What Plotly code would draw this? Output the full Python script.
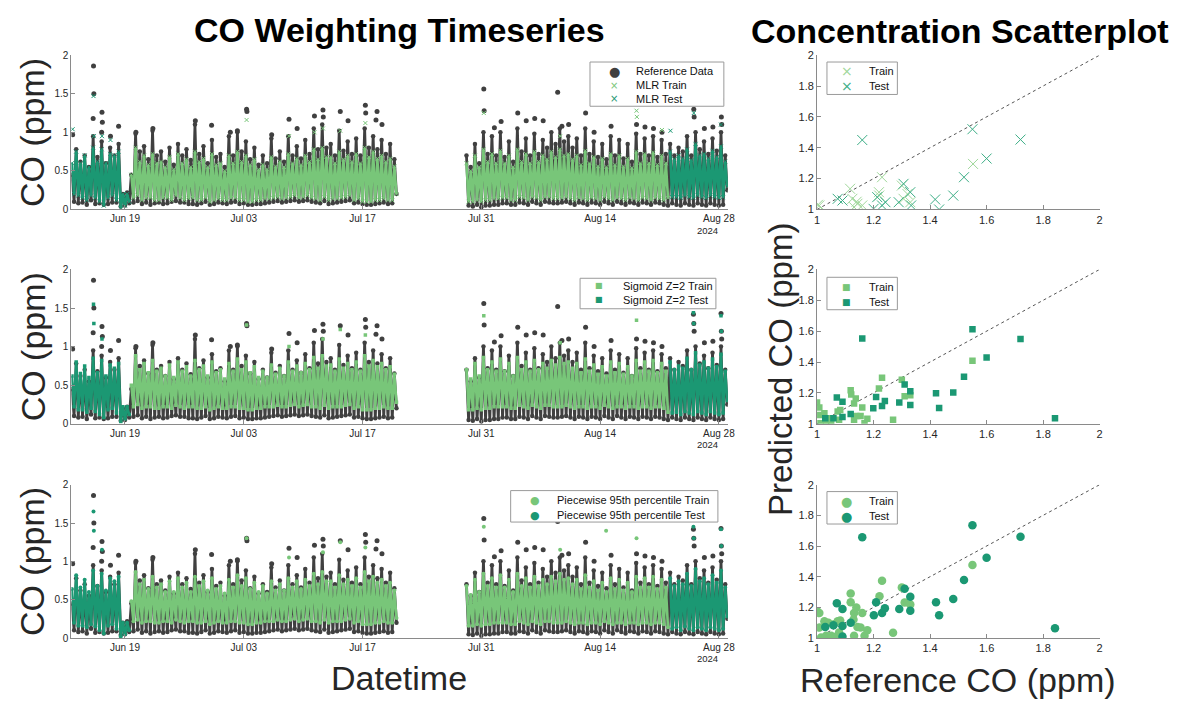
import pandas as pd
import plotly.graph_objects as go

# ---------------- data ----------------
SEG1_START, SEG1_END = '2024-06-12 18:00', '2024-07-21 00:00'
SEG2_START, SEG2_END = '2024-07-29 06:00', '2024-08-29 00:00'
TEST1_END = pd.Timestamp('2024-06-19 12:00')
TEST2_START = pd.Timestamp('2024-08-22 06:00')

# reference CO, 6-hourly (00,06,12,18 h)
ref_seg1 = [0.45,
 0.10,0.78,0.08,0.62, 0.09,0.70,0.06,0.55, 0.12,0.95,0.07,0.68, 0.08,0.88,0.06,0.60,
 0.07,0.80,0.09,0.70, 0.09,0.85,0.04,0.20, 0.05,0.22,0.08,0.45, 0.09,0.98,0.11,0.75,
 0.07,0.82,0.09,0.65, 0.06,1.02,0.08,0.70, 0.09,0.75,0.07,0.62, 0.08,0.80,0.10,0.58,
 0.11,0.85,0.09,0.70, 0.09,0.78,0.07,0.64, 0.07,1.10,0.06,0.72, 0.08,0.82,0.10,0.60,
 0.06,0.90,0.07,0.68, 0.09,0.72,0.08,0.55, 0.07,0.95,0.09,0.70, 0.10,1.00,0.07,0.75,
 0.08,0.88,0.06,0.65, 0.06,0.80,0.07,0.58, 0.07,0.70,0.08,0.60, 0.09,0.92,0.10,0.66,
 0.11,0.75,0.09,0.62, 0.10,0.95,0.11,0.70, 0.12,0.82,0.10,0.66, 0.11,0.90,0.12,0.72,
 0.10,1.05,0.09,0.78, 0.08,1.10,0.11,0.80, 0.07,0.85,0.08,0.70, 0.09,1.02,0.10,0.76,
 0.11,0.88,0.12,0.72, 0.08,0.92,0.09,0.70, 0.07,1.05,0.06,0.80, 0.06,0.95,0.07,0.78,
 0.08,0.90,0.09,0.72, 0.07,0.85,0.08,0.65,
 0.20]
ref_seg2 = [0.70,0.05,0.55,
 0.04,0.85,0.06,0.60, 0.03,1.00,0.05,0.72, 0.05,0.95,0.06,0.70, 0.06,1.00,0.08,0.68,
 0.08,0.88,0.06,0.62, 0.06,1.05,0.09,0.75, 0.08,0.92,0.06,0.70, 0.10,0.98,0.08,0.72,
 0.06,0.90,0.10,0.80, 0.09,1.00,0.08,0.85, 0.08,1.05,0.09,0.88, 0.10,0.95,0.08,0.80,
 0.06,0.92,0.09,0.70, 0.08,1.05,0.06,0.72, 0.09,0.88,0.08,0.68, 0.06,0.85,0.10,0.65,
 0.08,0.95,0.06,0.70, 0.10,0.90,0.08,0.66, 0.06,0.85,0.09,0.62, 0.08,0.98,0.06,0.72,
 0.09,0.92,0.08,0.70, 0.06,0.95,0.09,0.68, 0.08,0.90,0.06,0.72, 0.05,0.85,0.08,0.70,
 0.06,0.80,0.05,0.75, 0.08,0.95,0.06,0.70, 0.05,1.00,0.08,0.78, 0.06,0.88,0.05,0.72,
 0.08,0.92,0.06,0.76, 0.05,1.00,0.06,0.70,
 0.25]
ref_peak_times = ['2024-06-12 20:00','2024-06-15 06:00','2024-06-15 07:00','2024-06-15 08:00',
 '2024-06-16 06:00','2024-06-16 07:00','2024-06-16 08:00','2024-06-17 07:00','2024-06-18 06:00',
 '2024-06-20 07:00','2024-06-22 07:00','2024-06-27 07:00','2024-06-29 05:00','2024-07-01 10:00',
 '2024-07-02 06:00','2024-07-03 08:00','2024-07-03 09:00','2024-07-06 07:00','2024-07-08 08:00',
 '2024-07-09 07:00','2024-07-11 08:00','2024-07-12 08:00','2024-07-12 09:00','2024-07-14 09:00',
 '2024-07-15 07:00','2024-07-17 08:00','2024-07-17 09:00','2024-07-18 14:00','2024-07-18 17:00',
 '2024-07-19 07:00','2024-07-31 07:00','2024-07-31 08:00','2024-08-01 13:00','2024-08-02 08:00',
 '2024-08-04 07:00','2024-08-05 07:00','2024-08-06 07:00','2024-08-07 07:00','2024-08-09 00:00',
 '2024-08-09 12:00','2024-08-10 07:00','2024-08-12 07:00','2024-08-13 07:00','2024-08-15 07:00',
 '2024-08-18 07:00','2024-08-19 07:00','2024-08-20 07:00','2024-08-21 07:00','2024-08-25 00:00',
 '2024-08-25 01:00','2024-08-25 02:00','2024-08-26 07:00','2024-08-27 07:00','2024-08-28 06:00',
 '2024-08-28 07:00','2024-08-28 08:00']
ref_peak_vals = [0.97,1.18,1.86,1.50,1.00,1.26,1.13,0.95,1.08,1.00,1.05,1.15,1.09,1.00,1.02,1.30,
 1.27,0.97,1.17,1.05,1.21,1.29,1.20,1.27,1.15,1.35,1.25,1.16,1.27,1.10,1.56,1.28,1.06,1.14,1.25,
 1.15,1.18,1.15,1.52,1.08,1.10,1.25,1.00,1.08,1.10,1.07,1.05,1.00,1.42,1.30,1.20,1.05,1.07,1.43,
 1.20,1.10]

# MLR predictions
mlr_seg1 = [0.60,
 0.20,0.75,0.18,0.60, 0.15,0.70,0.12,0.55, 0.18,0.80,0.15,0.62, 0.10,0.78,0.05,0.60,
 0.15,0.72,0.18,0.70, 0.12,0.75,0.02,0.20, 0.05,0.20,0.10,0.45, 0.15,0.80,0.18,0.62,
 0.12,0.70,0.15,0.58, 0.15,0.72,0.12,0.60, 0.12,0.62,0.15,0.55, 0.15,0.68,0.12,0.52,
 0.18,0.72,0.15,0.60, 0.12,0.65,0.14,0.55, 0.15,0.75,0.12,0.62, 0.12,0.66,0.15,0.55,
 0.10,0.72,0.12,0.58, 0.14,0.60,0.12,0.50, 0.12,0.70,0.15,0.60, 0.15,0.75,0.12,0.62,
 0.12,0.70,0.10,0.58, 0.10,0.65,0.12,0.52, 0.12,0.58,0.14,0.52, 0.14,0.68,0.15,0.56,
 0.16,0.62,0.14,0.55, 0.15,0.72,0.16,0.60, 0.18,0.66,0.15,0.58, 0.16,0.70,0.18,0.62,
 0.15,0.78,0.14,0.65, 0.12,0.80,0.16,0.68, 0.12,0.68,0.14,0.60, 0.14,0.75,0.15,0.65,
 0.16,0.70,0.18,0.62, 0.12,0.72,0.14,0.60, 0.10,0.80,0.10,0.68, 0.10,0.75,0.12,0.66,
 0.12,0.70,0.14,0.62, 0.12,0.66,0.12,0.56,
 0.20]
mlr_seg2 = [0.60,0.10,0.50,
 0.10,0.70,0.12,0.55, 0.10,0.78,0.12,0.62, 0.12,0.72,0.14,0.60, 0.14,0.76,0.15,0.60,
 0.15,0.70,0.12,0.55, 0.12,0.78,0.16,0.62, 0.15,0.72,0.12,0.60, 0.16,0.75,0.15,0.62,
 0.12,0.70,0.16,0.65, 0.16,0.75,0.14,0.68, 0.14,0.78,0.15,0.70, 0.16,0.72,0.14,0.65,
 0.12,0.70,0.15,0.58, 0.14,0.76,0.12,0.60, 0.15,0.68,0.14,0.56, 0.12,0.66,0.16,0.55,
 0.14,0.72,0.12,0.58, 0.15,0.70,0.14,0.56, 0.12,0.66,0.15,0.54, 0.14,0.75,0.12,0.60,
 0.15,0.72,0.14,0.60, 0.12,0.74,0.15,0.58, 0.14,0.70,0.12,0.60, 0.15,0.75,0.16,0.65,
 0.16,0.70,0.15,0.66, 0.18,0.78,0.16,0.64, 0.15,0.85,0.18,0.70, 0.16,0.72,0.15,0.66,
 0.18,0.76,0.16,0.68, 0.15,0.82,0.16,0.62,
 0.30]
mlr_peak_times = ['2024-06-12 20:00','2024-06-15 07:00','2024-06-15 08:00','2024-06-16 07:00',
 '2024-06-17 07:00','2024-07-03 08:00','2024-07-08 08:00','2024-07-11 08:00','2024-07-12 08:00',
 '2024-07-14 09:00','2024-07-17 08:00','2024-07-31 07:00','2024-08-09 07:00','2024-08-18 07:00',
 '2024-08-18 08:00','2024-08-21 07:00','2024-08-22 07:00','2024-08-25 00:00','2024-08-25 01:00',
 '2024-08-28 06:00']
mlr_peak_vals = [1.04,1.47,0.95,0.95,0.90,1.16,0.95,1.00,1.05,1.02,1.12,1.25,0.95,1.28,1.20,1.03,
 1.02,1.38,1.25,1.10]

# Sigmoid Z=2 predictions
sig_seg1 = [0.62,
 0.22,0.80,0.18,0.65, 0.18,0.75,0.15,0.60, 0.20,0.85,0.16,0.66, 0.12,0.82,0.08,0.62,
 0.18,0.76,0.20,0.72, 0.14,0.78,0.03,0.22, 0.06,0.22,0.12,0.50, 0.22,0.88,0.25,0.70,
 0.20,0.78,0.22,0.66, 0.22,0.82,0.20,0.68, 0.20,0.72,0.22,0.62, 0.22,0.76,0.20,0.60,
 0.24,0.80,0.22,0.68, 0.20,0.74,0.22,0.62, 0.22,0.82,0.20,0.70, 0.20,0.75,0.22,0.62,
 0.18,0.80,0.20,0.66, 0.22,0.70,0.20,0.58, 0.20,0.78,0.22,0.68, 0.22,0.84,0.20,0.70,
 0.20,0.80,0.18,0.66, 0.18,0.74,0.20,0.60, 0.20,0.68,0.22,0.60, 0.22,0.76,0.22,0.64,
 0.24,0.72,0.22,0.62, 0.22,0.80,0.24,0.68, 0.25,0.75,0.22,0.66, 0.24,0.78,0.25,0.70,
 0.22,0.86,0.22,0.72, 0.20,0.88,0.24,0.75, 0.20,0.76,0.22,0.68, 0.22,0.84,0.22,0.72,
 0.24,0.78,0.25,0.70, 0.20,0.80,0.22,0.68, 0.18,0.88,0.18,0.75, 0.18,0.82,0.20,0.74,
 0.20,0.78,0.22,0.70, 0.20,0.74,0.20,0.64,
 0.28]
sig_seg2 = [0.70,0.18,0.58,
 0.18,0.78,0.20,0.62, 0.18,0.86,0.20,0.70, 0.20,0.80,0.22,0.68, 0.22,0.84,0.22,0.68,
 0.22,0.78,0.20,0.62, 0.20,0.86,0.24,0.70, 0.22,0.80,0.20,0.68, 0.24,0.82,0.22,0.70,
 0.20,0.78,0.24,0.72, 0.24,0.82,0.22,0.76, 0.22,0.86,0.22,0.78, 0.24,0.80,0.22,0.72,
 0.20,0.78,0.22,0.66, 0.22,0.84,0.20,0.68, 0.22,0.76,0.22,0.64, 0.20,0.74,0.24,0.62,
 0.22,0.80,0.20,0.66, 0.22,0.78,0.22,0.64, 0.20,0.74,0.22,0.62, 0.22,0.82,0.20,0.68,
 0.22,0.80,0.22,0.68, 0.20,0.82,0.22,0.66, 0.22,0.78,0.20,0.68, 0.15,0.80,0.14,0.70,
 0.15,0.75,0.12,0.72, 0.16,0.85,0.14,0.70, 0.12,0.92,0.16,0.76, 0.14,0.80,0.12,0.72,
 0.16,0.84,0.14,0.74, 0.12,0.90,0.14,0.68,
 0.30]
sig_peak_times = ['2024-06-15 07:00','2024-06-15 08:00','2024-06-16 07:00','2024-07-03 08:00',
 '2024-07-08 08:00','2024-07-12 08:00','2024-07-14 09:00','2024-07-17 08:00','2024-07-31 07:00',
 '2024-08-09 07:00','2024-08-18 07:00','2024-08-25 00:00','2024-08-25 01:00','2024-08-28 06:00',
 '2024-08-28 07:00']
sig_peak_vals = [1.55,1.30,1.10,1.28,1.00,1.10,1.22,1.15,1.40,1.05,1.34,1.44,1.30,1.40,1.20]

# Piecewise 95th percentile predictions
pw_seg1 = [0.64,
 0.20,0.82,0.16,0.66, 0.16,0.76,0.14,0.60, 0.18,0.88,0.15,0.68, 0.10,0.84,0.06,0.62,
 0.16,0.78,0.18,0.74, 0.12,0.80,0.02,0.20, 0.05,0.20,0.10,0.48, 0.22,0.86,0.24,0.70,
 0.20,0.76,0.22,0.64, 0.22,0.80,0.20,0.66, 0.20,0.70,0.22,0.60, 0.22,0.74,0.20,0.60,
 0.24,0.78,0.22,0.66, 0.20,0.72,0.22,0.60, 0.22,0.80,0.20,0.68, 0.20,0.74,0.22,0.62,
 0.18,0.78,0.20,0.64, 0.22,0.68,0.20,0.58, 0.20,0.76,0.22,0.66, 0.22,0.82,0.20,0.68,
 0.20,0.78,0.18,0.64, 0.18,0.72,0.20,0.60, 0.20,0.68,0.22,0.58, 0.22,0.74,0.22,0.62,
 0.24,0.70,0.22,0.62, 0.22,0.78,0.24,0.66, 0.25,0.74,0.22,0.64, 0.24,0.76,0.25,0.68,
 0.22,0.84,0.22,0.70, 0.20,0.86,0.24,0.74, 0.20,0.74,0.22,0.66, 0.22,0.82,0.22,0.70,
 0.24,0.76,0.25,0.68, 0.20,0.78,0.22,0.66, 0.18,0.86,0.18,0.74, 0.18,0.80,0.20,0.72,
 0.20,0.76,0.22,0.68, 0.20,0.72,0.20,0.62,
 0.26]
pw_seg2 = [0.68,0.16,0.56,
 0.16,0.76,0.18,0.60, 0.16,0.84,0.18,0.68, 0.18,0.78,0.20,0.66, 0.20,0.82,0.20,0.66,
 0.20,0.76,0.18,0.60, 0.18,0.84,0.22,0.68, 0.20,0.78,0.18,0.66, 0.22,0.80,0.20,0.68,
 0.18,0.76,0.22,0.70, 0.22,0.80,0.20,0.74, 0.20,0.84,0.20,0.76, 0.22,0.78,0.20,0.70,
 0.18,0.76,0.20,0.64, 0.20,0.82,0.18,0.66, 0.20,0.74,0.20,0.62, 0.18,0.72,0.22,0.60,
 0.20,0.78,0.18,0.64, 0.20,0.76,0.20,0.62, 0.18,0.72,0.20,0.60, 0.20,0.80,0.18,0.66,
 0.20,0.78,0.20,0.66, 0.18,0.80,0.20,0.64, 0.20,0.76,0.18,0.66, 0.14,0.78,0.12,0.68,
 0.14,0.74,0.10,0.70, 0.15,0.84,0.12,0.68, 0.10,0.90,0.14,0.74, 0.12,0.78,0.10,0.70,
 0.14,0.82,0.12,0.72, 0.10,0.88,0.12,0.66,
 0.28]
pw_peak_times = ['2024-06-15 07:00','2024-06-15 08:00','2024-06-16 07:00','2024-07-03 08:00',
 '2024-07-08 08:00','2024-07-12 08:00','2024-07-14 09:00','2024-07-17 08:00','2024-07-31 07:00',
 '2024-08-09 07:00','2024-08-14 17:00','2024-08-18 07:00','2024-08-25 00:00','2024-08-25 01:00',
 '2024-08-28 06:00','2024-08-28 07:00']
pw_peak_vals = [1.65,1.40,1.15,1.30,1.05,1.12,1.25,1.18,1.45,1.15,1.40,1.30,1.45,1.30,1.42,1.20]

# scatter (reference vs predicted CO)
mlr_train_x = [1.008,1.003,1.117,1.125,1.143,1.160,1.131,1.230,1.219,1.300,1.306,1.330,1.552,1.140,1.220,1.320]
mlr_train_y = [1.026,1.030,1.134,1.069,1.037,1.026,1.015,1.209,1.112,1.155,1.069,1.047,1.295,1.050,1.090,1.100]
mlr_test_x = [1.073,1.090,1.160,1.200,1.213,1.230,1.242,1.289,1.306,1.330,1.333,1.418,1.432,1.482,1.520,1.550,1.600,1.720]
mlr_test_y = [1.069,1.058,1.450,1.004,1.080,1.026,1.047,1.047,1.166,1.112,1.026,1.065,1.000,1.090,1.209,1.520,1.330,1.453]

sig_train_x = [1.000,1.008,1.008,1.012,1.026,1.032,1.050,1.050,1.073,1.078,1.082,1.119,1.121,1.131,1.137,1.131,1.139,1.154,1.160,1.168,1.178,1.219,1.230,1.269,1.300,1.310,1.330,1.550]
sig_train_y = [1.138,1.106,1.057,1.004,1.068,1.004,1.036,1.000,1.079,1.026,1.089,1.217,1.190,1.132,1.164,1.026,1.051,1.051,1.106,1.004,1.032,1.228,1.298,1.026,1.285,1.179,1.185,1.408]
sig_test_x = [1.029,1.058,1.070,1.090,1.090,1.119,1.160,1.199,1.209,1.230,1.240,1.291,1.310,1.330,1.330,1.421,1.432,1.482,1.520,1.550,1.600,1.720,1.842]
sig_test_y = [1.036,1.036,1.170,1.143,1.043,1.064,1.553,1.100,1.174,1.115,1.147,1.138,1.255,1.210,1.121,1.198,1.102,1.202,1.304,1.613,1.430,1.549,1.036]

pw_train_x = [1.000,1.008,1.008,1.014,1.032,1.026,1.050,1.067,1.073,1.078,1.082,1.119,1.119,1.129,1.131,1.131,1.139,1.143,1.154,1.160,1.168,1.178,1.221,1.230,1.269,1.300,1.310,1.330,1.550,1.040,1.060]
pw_train_y = [1.174,1.163,1.068,1.004,1.015,1.110,1.015,1.008,1.110,1.036,1.114,1.290,1.233,1.121,1.163,1.015,1.199,1.072,1.068,1.163,1.015,1.051,1.273,1.373,1.034,1.330,1.231,1.218,1.477,1.100,1.090]
pw_test_x = [1.029,1.058,1.070,1.090,1.090,1.090,1.119,1.160,1.201,1.209,1.230,1.240,1.291,1.310,1.330,1.330,1.421,1.432,1.482,1.520,1.550,1.600,1.720,1.842]
pw_test_y = [1.072,1.083,1.227,1.190,1.010,1.078,1.100,1.657,1.148,1.233,1.163,1.195,1.189,1.322,1.269,1.178,1.233,1.148,1.254,1.379,1.735,1.523,1.661,1.064]

date_ticks = ['2024-06-19','2024-07-03','2024-07-17','2024-07-31','2024-08-14','2024-08-28']
date_tick_text = ['Jun 19','Jul 03','Jul 17','Jul 31','Aug 14','Aug 28']
ts_y_ticks = [0, 0.5, 1, 1.5, 2]
ts_y_text = ['0', '0.5', '1', '1.5', '2']
sc_ticks = [1, 1.2, 1.4, 1.6, 1.8, 2]
sc_text = ['1', '1.2', '1.4', '1.6', '1.8', '2']

# ---------------- style ----------------
W, H = 1181, 704
FONT = 'Liberation Sans, Arial, sans-serif'
SYMFONT = 'DejaVu Sans, sans-serif'
REF_C = '#404040'
TRAIN_C = '#78c679'
TEST_C = '#1b9873'
MLR_TRAIN_SC = '#9fd79a'
MLR_TEST_SC = '#3cae86'
AX_C = '#8a8a8a'
TXT_C = '#262626'

t1 = list(pd.date_range(SEG1_START, SEG1_END, freq='6h'))
t2 = list(pd.date_range(SEG2_START, SEG2_END, freq='6h'))
assert len(t1) == len(ref_seg1) == len(mlr_seg1) == len(sig_seg1) == len(pw_seg1)
assert len(t2) == len(ref_seg2) == len(mlr_seg2) == len(sig_seg2) == len(pw_seg2)


def is_test(t):
    return t <= TEST1_END or t >= TEST2_START


def band(v1, v2, part=None):
    xs, ys = [], []
    for t, v in list(zip(t1, v1)) + [(None, None)] + list(zip(t2, v2)):
        if t is None:
            xs.append(None); ys.append(None); continue
        keep = part is None or (is_test(t) == (part == 'test'))
        xs.append(t); ys.append(v if keep else None)
    return xs, ys


def peaks(times, vals, part=None):
    xs, ys = [], []
    for t, v in zip(times, vals):
        tt = pd.Timestamp(t)
        if part is None or is_test(tt) == (part == 'test'):
            xs.append(tt); ys.append(v)
    return xs, ys


def mk(color, size, symbol):
    m = dict(color=color, size=size, symbol=symbol)
    m['line'] = dict(color=color, width=1) if symbol.endswith('-thin') else dict(width=0)
    return m


fig = go.Figure()

rows = [(50, 207), (268, 425), (487, 643)]
ydoms = [[1 - b / H, 1 - t / H] for t, b in rows]
ts_xdom = [69 / W, 731 / W]
sc_xdom = [821 / W, 1106 / W]

models = [
    (mlr_seg1, mlr_seg2, mlr_peak_times, mlr_peak_vals, 'x-thin', 4),
    (sig_seg1, sig_seg2, sig_peak_times, sig_peak_vals, 'square', 3.5),
    (pw_seg1, pw_seg2, pw_peak_times, pw_peak_vals, 'circle', 4),
]
scat = [
    (mlr_train_x, mlr_train_y, mlr_test_x, mlr_test_y, 'x-thin', 10, MLR_TRAIN_SC, MLR_TEST_SC),
    (sig_train_x, sig_train_y, sig_test_x, sig_test_y, 'square', 6.5, TRAIN_C, TEST_C),
    (pw_train_x, pw_train_y, pw_test_x, pw_test_y, 'circle', 8.5, TRAIN_C, TEST_C),
]

for i, (s1, s2, pt, pv, sym, msz) in enumerate(models):
    xa = 'x' if i == 0 else f'x{2 * i + 1}'
    ya = 'y' if i == 0 else f'y{2 * i + 1}'
    bx, by = band(ref_seg1, ref_seg2)
    fig.add_trace(go.Scatter(x=bx, y=by, mode='lines+markers', xaxis=xa, yaxis=ya,
                             line=dict(color=REF_C, width=2.8), marker=dict(color=REF_C, size=4.5),
                             showlegend=False, connectgaps=False, hoverinfo='skip'))
    px_, py_ = peaks(ref_peak_times, ref_peak_vals)
    fig.add_trace(go.Scatter(x=px_, y=py_, mode='markers', xaxis=xa, yaxis=ya,
                             marker=dict(color=REF_C, size=5), showlegend=False, hoverinfo='skip'))
    for part, col in (('train', TRAIN_C), ('test', TEST_C)):
        bx, by = band(s1, s2, part)
        fig.add_trace(go.Scatter(x=bx, y=by, mode='lines+markers', xaxis=xa, yaxis=ya,
                                 line=dict(color=col, width=2.6), marker=mk(col, msz, sym),
                                 showlegend=False, connectgaps=False, hoverinfo='skip'))
        px_, py_ = peaks(pt, pv, part)
        fig.add_trace(go.Scatter(x=px_, y=py_, mode='markers', xaxis=xa, yaxis=ya,
                                 marker=mk(col, msz, sym), showlegend=False, hoverinfo='skip'))

    trx, tr_y, tex, te_y, ssym, ssz, ctr, cte = scat[i]
    sxa, sya = f'x{2 * i + 2}', f'y{2 * i + 2}'
    fig.add_trace(go.Scatter(x=[1, 2], y=[1, 2], mode='lines', xaxis=sxa, yaxis=sya,
                             line=dict(color='#555555', width=1, dash='dot'), showlegend=False,
                             hoverinfo='skip'))
    fig.add_trace(go.Scatter(x=trx, y=tr_y, mode='markers', name='Train', xaxis=sxa, yaxis=sya,
                             showlegend=False, marker=mk(ctr, ssz, ssym), hoverinfo='skip'))
    fig.add_trace(go.Scatter(x=tex, y=te_y, mode='markers', name='Test', xaxis=sxa, yaxis=sya,
                             showlegend=False, marker=mk(cte, ssz, ssym), hoverinfo='skip'))

common = dict(showline=True, linecolor=AX_C, linewidth=1, ticks='inside', ticklen=4,
              tickcolor=AX_C, showgrid=False, zeroline=False, mirror=False,
              tickfont=dict(family=FONT, size=10, color=TXT_C))
for i in range(3):
    xk = 'xaxis' if i == 0 else f'xaxis{2 * i + 1}'
    yk = 'yaxis' if i == 0 else f'yaxis{2 * i + 1}'
    ya = 'y' if i == 0 else f'y{2 * i + 1}'
    xa = 'x' if i == 0 else f'x{2 * i + 1}'
    fig.layout[xk] = dict(common, domain=ts_xdom, anchor=ya, type='date',
                          range=['2024-06-12 16:30', '2024-08-29 01:15'],
                          tickvals=date_ticks, ticktext=date_tick_text)
    fig.layout[yk] = dict(common, domain=ydoms[i], anchor=xa, range=[0, 2],
                          tickvals=ts_y_ticks, ticktext=ts_y_text)
    fig.layout[f'xaxis{2 * i + 2}'] = dict(common, domain=sc_xdom, anchor=f'y{2 * i + 2}', range=[1, 2],
                                            tickvals=sc_ticks, ticktext=sc_text,
                                            tickfont=dict(family=FONT, size=11, color=TXT_C))
    fig.layout[f'yaxis{2 * i + 2}'] = dict(common, domain=ydoms[i], anchor=f'x{2 * i + 2}', range=[1, 2],
                                            tickvals=sc_ticks, ticktext=sc_text,
                                            tickfont=dict(family=FONT, size=11, color=TXT_C))

ann = []
shapes = []


def add_text(text, xpx, ypx, size, angle=0, bold=False, color=TXT_C, xanchor='center', family=FONT):
    ann.append(dict(text=f'<b>{text}</b>' if bold else text, x=xpx / W, y=1 - ypx / H,
                    xref='paper', yref='paper', showarrow=False, textangle=angle,
                    xanchor=xanchor, yanchor='middle',
                    font=dict(family=family, size=size, color=color)))


def add_legend(box, entries, sym_x, text_x):
    x0, y0, x1, y1 = box
    shapes.append(dict(type='rect', xref='paper', yref='paper', x0=x0 / W, x1=x1 / W,
                       y0=1 - y1 / H, y1=1 - y0 / H, line=dict(color='#9a9a9a', width=1),
                       fillcolor='white', layer='above'))
    for glyph, gsize, gcol, label, ypx in entries:
        add_text(glyph, sym_x, ypx, gsize, color=gcol, family=SYMFONT)
        add_text(label, text_x, ypx, 11, color='#111111', xanchor='left')


# legends (manual, drawn as boxes with glyphs and labels)
add_legend((592, 57, 727, 102), [('●', 13, REF_C, 'Reference Data', 66.5),
                                 ('×', 10, TRAIN_C, 'MLR Train', 80.5),
                                 ('×', 10, TEST_C, 'MLR Test', 94.5)], 616.5, 636.5)
add_legend((582, 277, 719, 308), [('■', 8, TRAIN_C, 'Sigmoid Z=2 Train', 284.5),
                                  ('■', 8, TEST_C, 'Sigmoid Z=2 Test', 299)], 601.5, 623)
add_legend((512, 493, 721, 525), [('●', 11, TRAIN_C, 'Piecewise 95th percentile Train', 503),
                                  ('●', 11, TEST_C, 'Piecewise 95th percentile Test', 518)], 536.5, 556.5)
add_legend((831, 57, 902, 90), [('×', 14, MLR_TRAIN_SC, 'Train', 66.5),
                                ('×', 14, MLR_TEST_SC, 'Test', 81.5)], 851, 871.5)
add_legend((831, 276, 902, 309), [('■', 9, TRAIN_C, 'Train', 286),
                                  ('■', 9, TEST_C, 'Test', 301)], 851, 871.5)
add_legend((831, 494, 902, 527), [('●', 13, TRAIN_C, 'Train', 504),
                                  ('●', 13, TEST_C, 'Test', 519)], 851, 871.5)

add_text('CO Weighting Timeseries', 400, 24, 34, bold=True, color='black')
add_text('Concentration Scatterplot', 965, 25, 34, bold=True, color='black')
for t, b in rows:
    add_text('CO (ppm)', 30, (t + b) / 2, 34, angle=-90)
    add_text('2024', 711, b + 21, 9.5)
add_text('Datetime', 399, 684, 34)
add_text('Predicted CO (ppm)', 784, 370, 33, angle=-90)
add_text('Reference CO (ppm)', 963, 686, 34)

fig.update_layout(width=W, height=H, autosize=False, margin=dict(l=0, r=0, t=0, b=0),
                  paper_bgcolor='white', plot_bgcolor='white', annotations=ann, shapes=shapes,
                  font=dict(family=FONT), hovermode=False, showlegend=False)

fig.write_html('out.html')
